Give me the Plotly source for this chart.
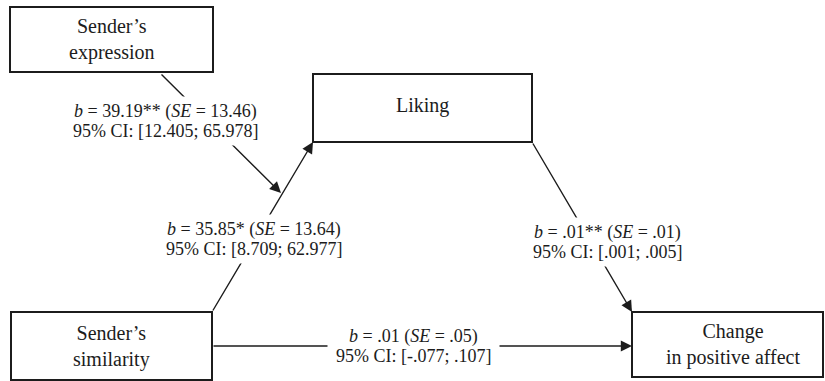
import plotly.graph_objects as go

# Path model: nodes and estimated coefficients
node_labels = ["Sender’s<br>expression", "Liking", "Sender’s<br>similarity", "Change<br>in positive affect"]
path_b = ["39.19**", "35.85*", ".01**", ".01"]
path_se = ["13.46", "13.64", ".01", ".05"]
ci_lower = ["12.405", "8.709", ".001", "-.077"]
ci_upper = ["65.978", "62.977", ".005", ".107"]

W, H = 825, 381
FONT = "'Liberation Serif', 'Times New Roman', serif"
INK = "#1c1c1c"

# Layout: boxes (x0, y0, x1, y1) in pixel space, label centre
boxes = [
    ((10, 7, 213, 72), (112, 39)),
    ((313, 74, 532, 142), (422, 105)),
    ((11, 312, 212, 380), (111, 346)),
    ((632, 312, 823, 377), (733, 344)),
]

# Arrows: (tail, tip) and label centre for each path
arrows = [
    ((160, 73), (281, 193), (165, 111)),
    ((212, 312), (313, 142), (254, 229)),
    ((532, 142), (632, 312), (607, 232)),
    ((212, 346), (632, 346), (413, 336)),
]

fig = go.Figure()
shapes = []
arrow_anns, mask_anns, text_anns = [], [], []

for (x0, y0, x1, y1), (cx, cy) in boxes:
    shapes.append(dict(type="rect", xref="x", yref="y", x0=x0, y0=y0, x1=x1, y1=y1,
                       line=dict(color=INK, width=2), fillcolor="white", layer="above"))

for i, ((tx, ty), (hx, hy), _) in enumerate(arrows):
    arrow_anns.append(dict(
        x=hx, y=hy, ax=tx, ay=ty, xref="x", yref="y", axref="x", ayref="y",
        text="", showarrow=True, arrowhead=2, arrowsize=1.6, arrowwidth=1.4,
        arrowcolor=INK, standoff=0, startstandoff=0))

# Coefficient labels: a white mask under each line breaks the path, then the text itself
for i, (_, _, (lx, ly)) in enumerate(arrows):
    line1 = f"<i>b</i> = {path_b[i]} (<i>SE</i> = {path_se[i]})"
    line2 = f"95% CI: [{ci_lower[i]}; {ci_upper[i]}]"
    pad = 8 if i == 3 else 4
    for text, y in ((line1, ly), (line2, ly + 20)):
        common = dict(x=lx, y=y, xref="x", yref="y", text=text, showarrow=False,
                      xanchor="center", yanchor="middle")
        mask_anns.append(dict(common, bgcolor="white", borderpad=pad,
                              font=dict(family=FONT, size=18, color="rgba(0,0,0,0)")))
        text_anns.append(dict(common, font=dict(family=FONT, size=18, color=INK)))

for label, (_, (cx, cy)) in zip(node_labels, boxes):
    text_anns.append(dict(
        x=cx, y=cy, xref="x", yref="y", text=label, showarrow=False,
        xanchor="center", yanchor="middle",
        font=dict(family=FONT, size=20, color=INK)))

fig.update_layout(
    width=W, height=H, margin=dict(l=0, r=0, t=0, b=0),
    paper_bgcolor="white", plot_bgcolor="white",
    xaxis=dict(range=[0, W], visible=False, fixedrange=True),
    yaxis=dict(range=[H, 0], visible=False, fixedrange=True),
    shapes=shapes, annotations=arrow_anns + mask_anns + text_anns, showlegend=False,
)

fig.write_html("out.html")
